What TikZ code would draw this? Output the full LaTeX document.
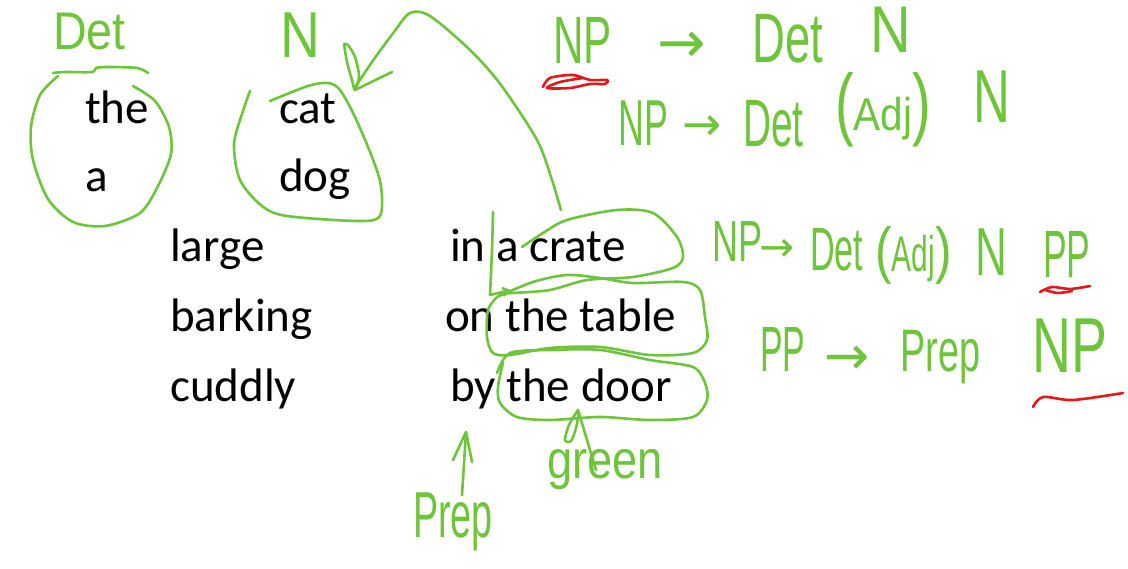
\documentclass[tikz,border=0pt]{standalone}
\usepackage{graphicx}
\usepackage{fontspec}
\setmainfont{Carlito}
\newfontfamily\hwfont{Liberation Sans}
\newfontfamily\arrfont{DejaVu Sans}
\usetikzlibrary{arrows.meta}
\definecolor{hgreen}{RGB}{110,196,58}
\definecolor{hred}{RGB}{225,25,25}
\newcommand\hwtext[3]{{\hwfont\fontsize{#1}{#1}\selectfont\scalebox{#2}[1]{#3}}}
\newcommand\hwarrow[1]{{\arrfont\fontsize{#1}{#1}\selectfont →}}
\begin{document}
\begin{tikzpicture}[x=1pt,y=-1pt,
  word/.style={anchor=base west, inner sep=0pt, font=\fontsize{47}{56}\selectfont, text=black},
  hw/.style={anchor=base west, inner sep=0pt, text=hgreen},
  hwa/.style={anchor=center, inner sep=0pt, text=hgreen},
  stroke/.style={draw=hgreen, line width=2.6pt, line cap=round, line join=round},
  redstroke/.style={draw=hred, line width=2.6pt, line cap=round, line join=round}]
\useasboundingbox (0,0) rectangle (1128,569);
\fill[white] (0,0) rectangle (1128,569);

% typed words
\node[word] (the) at (85,124) {the};
\node[word] (a) at (85,192) {a};
\node[word] (cat) at (279,124) {cat};
\node[word] (dog) at (279,192) {dog};
\node[word] (large) at (170,262) {large};
\node[word] (barking) at (170,332) {barking};
\node[word] (cuddly) at (170,402) {cuddly};
\node[word] (ppa) at (450,262) {in a crate};
\node[word] (ppb) at (445,332) {on the table};
\node[word] (ppc) at (450,402) {by the door};

% handwritten labels
\node[hw] (detlab) at (53,50) {\hwtext{53}{0.88}{Det}};
\node[hw] (nlab) at (280,58) {\hwtext{65}{0.85}{N}};

% rule 1
\node[hw] (a1) at (553,64) {\hwtext{67}{0.63}{NP}};
\node[hwa] (a2) at (682,47) {\hwarrow{58}};
\node[hw] (a3) at (752,63) {\hwtext{70}{0.65}{Det}};
\node[hw] (a4) at (870,53) {\hwtext{66}{0.85}{N}};

% rule 2
\node[hw] (b1) at (618,146) {\hwtext{65}{0.55}{NP}};
\node[hwa] (b2) at (702,128) {\hwarrow{47}};
\node[hw] (b3) at (743,147) {\hwtext{67}{0.58}{Det}};
\node[hw] (b4) at (835,131) {\hwtext{80}{0.7}{(}\hwtext{46}{0.88}{Adj}\hwtext{80}{0.7}{)}};
\node[hw] (b5) at (973,123) {\hwtext{75}{0.68}{N}};

% rule 3
\node[hw] (c1) at (712,262) {\hwtext{58}{0.62}{NP}};
\node[hwa] (c2) at (777,250) {\hwarrow{42}};
\node[hw] (c3) at (810,271) {\hwtext{61}{0.56}{Det}};
\node[hw] (c4) at (875,272) {\hwtext{62}{0.8}{(}\hwtext{50}{0.6}{Adj}\hwtext{62}{0.8}{)}};
\node[hw] (c5) at (975,276) {\hwtext{68}{0.65}{N}};
\node[hw] (c6) at (1043,278) {\hwtext{67}{0.53}{PP}};

% rule 4
\node[hw] (d1) at (760,372) {\hwtext{64}{0.53}{PP}};
\node[hwa] (d2) at (847,360) {\hwarrow{54}};
\node[hw] (d3) at (900,372) {\hwtext{60}{0.63}{Prep}};
\node[hw] (d4) at (1032,373) {\hwtext{78}{0.69}{NP}};

% bottom labels
\node[hw] (prep) at (413,537) {\hwtext{65}{0.58}{Prep}};
\node[hw] (green) at (547,478) {\hwtext{54}{0.84}{green}};

% circle around the / a
\draw[stroke] plot[smooth] coordinates {(53,73) (65,72) (92,72) (96,68) (108,67) (137,68) (148,73)};
\draw[stroke] plot[smooth] coordinates {(133,86) (155,101) (169,127) (171,154) (158,186) (140,213) (105,226) (73,222) (48,199) (33,160) (31,127) (40,95) (58,76)};

% circle around cat / dog
\draw[stroke] plot[smooth] coordinates {(250,91) (243,111) (234,144) (240,180) (262,206) (287,216) (358,221) (380,216) (381,186) (372,157) (355,117) (340,90) (328,83) (308,86) (270,101)};

% loop and long arrow from PP to N
\draw[stroke] plot[smooth] coordinates {(344,44) (347,62) (352,80) (355,90) (359,76) (355,57) (348,45) (344,44)};
\draw[stroke] plot[smooth] coordinates {(354,89) (372,62) (394,32) (410,13) (430,16) (470,50) (501,85) (537,140) (552,180) (558,200) (561,210)};
\draw[stroke] (355,90) -- (392,72);

% bracket with small arrow
\draw[stroke, -{Straight Barb[length=6pt,width=8pt]}] plot[smooth] coordinates {(493,212) (492,250) (490,295)} -- (511,290);

% loops around the PPs
\draw[stroke] plot[smooth] coordinates {(522,247) (543,233) (567,220) (617,210) (653,213) (677,237) (683,257) (673,268) (633,277) (587,280) (550,290) (513,293) (500,294)};
\draw[stroke] plot[smooth] coordinates {(497,297) (533,282) (567,275) (600,278) (633,283) (683,282) (700,290) (705,317) (707,340) (693,353) (650,355) (600,347) (550,348) (510,355) (493,353) (487,337) (488,310) (497,297)};
\draw[stroke] plot[smooth] coordinates {(497,373) (510,353) (550,350) (600,350) (650,360) (693,367) (705,383) (707,400) (693,417) (650,420) (600,417) (550,420) (517,417) (500,403) (498,387) (503,363)};

% arrow from green
\draw[stroke] (596,470) -- (578,410);
\draw[stroke] plot[smooth] coordinates {(578,410) (569,425) (565,440) (571,441) (576,428) (579,412)};

% arrow above Prep
\draw[stroke] (462,495) -- (466,432);
\draw[stroke] plot coordinates {(453,460) (466,432) (472,462)};

% red marks
\draw[redstroke] plot[smooth] coordinates {(543,87) (550,78) (573,75) (590,80) (607,80) (605,84) (590,84) (570,88) (547,88) (560,82) (583,78)};
\draw[redstroke] plot[smooth] coordinates {(1040,292) (1052,287) (1070,289) (1090,286)};
\draw[redstroke] plot[smooth] coordinates {(1045,290) (1058,293) (1072,291)};
\draw[redstroke] plot[smooth] coordinates {(1033,407) (1043,397) (1073,400) (1123,393)};
\end{tikzpicture}
\end{document}
